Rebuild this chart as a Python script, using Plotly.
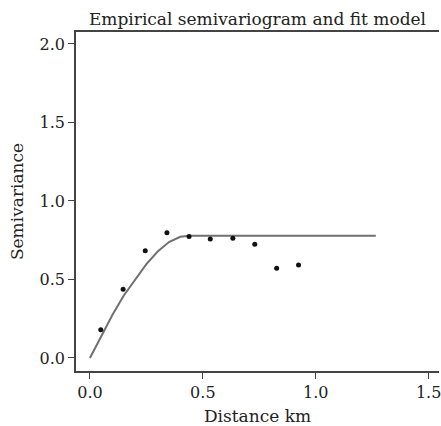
import plotly.graph_objects as go

# Empirical semivariogram points
dist = [0.048, 0.147, 0.245, 0.341, 0.439, 0.533, 0.633, 0.730, 0.827, 0.924]
gamma = [0.18, 0.437, 0.683, 0.798, 0.773, 0.758, 0.762, 0.724, 0.571, 0.592]

# Fitted model line
fit_dist = [0.0, 0.05, 0.10, 0.15, 0.20, 0.25, 0.30, 0.35, 0.40, 0.44, 1.266]
fit_gamma = [0.0, 0.138, 0.275, 0.398, 0.496, 0.598, 0.678, 0.738, 0.772, 0.778, 0.778]

x_ticks = [0.0, 0.5, 1.0, 1.5]
x_tick_labels = ["0.0", "0.5", "1.0", "1.5"]
y_ticks = [0.0, 0.5, 1.0, 1.5, 2.0]
y_tick_labels = ["0.0", "0.5", "1.0", "1.5", "2.0"]

FONT = "DejaVu Serif, Liberation Serif, serif"
INK = "#222222"
AXIS = "#444444"

fig = go.Figure()
fig.add_trace(go.Scatter(x=fit_dist, y=fit_gamma, mode="lines",
                         line=dict(color="#707070", width=2), hoverinfo="skip"))
fig.add_trace(go.Scatter(x=dist, y=gamma, mode="markers",
                         marker=dict(color="#111111", size=5)))

fig.update_layout(
    width=441, height=426,
    margin=dict(l=76, r=0, t=32, b=55),
    paper_bgcolor="white", plot_bgcolor="white",
    showlegend=False,
    font=dict(family=FONT, size=16, color=INK),
    title=dict(text="Empirical semivariogram and fit model", x=0.5, xref="paper",
               xanchor="center", y=1, yref="paper", yanchor="bottom",
               pad=dict(b=7), font=dict(family=FONT, size=17, color=INK)),
    xaxis=dict(range=[-0.0617, 1.546], tickvals=x_ticks, ticktext=x_tick_labels,
               showgrid=False, zeroline=False, showline=True, linecolor=AXIS,
               linewidth=1.5, mirror=True, ticks="outside", ticklen=6, tickcolor=AXIS,
               ticklabeloverflow="allow",
               title=dict(text="Distance km", standoff=12, font=dict(size=17)),
               tickfont=dict(size=16)),
    yaxis=dict(range=[-0.083, 2.076], tickvals=y_ticks, ticktext=y_tick_labels,
               showgrid=False, zeroline=False, showline=True, linecolor=AXIS,
               linewidth=1.5, ticks="outside", ticklen=6, tickcolor=AXIS,
               title=dict(text="Semivariance", standoff=12, font=dict(size=17)),
               tickfont=dict(size=16)),
)

fig.write_html("out.html", config={"displayModeBar": False},
               post_script="document.body.style.margin='0';document.body.style.overflow='hidden';")
